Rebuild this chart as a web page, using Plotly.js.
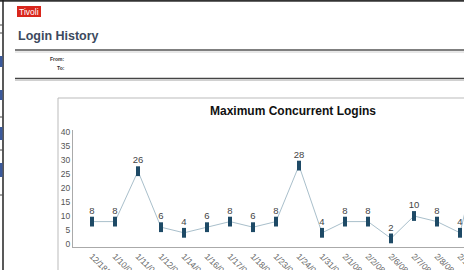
<!DOCTYPE html>
<html>
<head>
<meta charset="utf-8">
<script src="https://cdn.plot.ly/plotly-3.0.1.min.js"></script>
<style>
html,body{margin:0;padding:0;background:#fff;}
#chart{width:464px;height:270px;}
</style>
</head>
<body>
<div id="chart"></div>
<script>
// ---- data ----
var dates = ['12/18/07','1/10/08','1/11/08','1/12/08','1/14/08','1/16/08','1/17/08','1/18/08','1/23/08','1/24/08','1/31/08','2/1/08','2/2/08','2/6/08','2/7/08','2/8/08','2/11/08','2/12/08'];
var logins = [8,8,26,6,4,6,8,6,8,28,4,8,8,2,10,8,4,38];
var yTicks = [0,5,10,15,20,25,30,35,40];
var chartTitle = 'Maximum Concurrent Logins';
var pageTitle = 'Login History';

// ---- pixel helpers for page decorations (paper = whole 464x270 area) ----
var W = 464, H = 270;
var L = 73, R = 464, T = 130, B = 247;
function px(x){ return x / W; }
function py(y){ return 1 - y / H; }
function hline(x0, x1, y, color, w){
  return {type:'line', xref:'paper', yref:'paper', x0:px(x0), x1:px(x1), y0:py(y), y1:py(y), line:{color:color, width:w}};
}
function vline(x, y0, y1, color, w){
  return {type:'line', xref:'paper', yref:'paper', x0:px(x), x1:px(x), y0:py(y0), y1:py(y1), line:{color:color, width:w}};
}
function rect(x0, y0, x1, y1, fill){
  return {type:'rect', xref:'paper', yref:'paper', x0:px(x0), x1:px(x1), y0:py(y1), y1:py(y0), fillcolor:fill, line:{width:0}, layer:'above'};
}

var shapes = [
  hline(0, 464, 0.8, '#333', 2),
  vline(3, 0, 270, '#222', 1.5),
  rect(0, 56, 2.5, 67, '#3b5a9c'),
  rect(0, 90, 2.5, 100, '#3b5a9c'),
  rect(0, 127, 2.5, 140, '#3b5a9c'),
  rect(0, 163, 2.5, 177, '#3b5a9c'),
  hline(0, 2.5, 25, '#444', 1),
  hline(0, 2.5, 33, '#444', 1),
  hline(0, 2.5, 117, '#444', 1),
  hline(0, 2.5, 150, '#444', 1),
  hline(0, 2.5, 195, '#444', 1),
  rect(17, 6, 41, 17, '#d9261c'),
  hline(15, 464, 50, '#555', 1.5),
  hline(15, 464, 52, '#d0d0d0', 1),
  hline(15, 464, 78.5, '#444', 1.5),
  hline(15, 464, 80.5, '#d0d0d0', 1),
  hline(58, 464, 98, '#bbbbbb', 1),
  vline(58, 98, 270, '#bbbbbb', 1)
];

var annotations = [
  {xref:'paper', yref:'paper', x:px(29), y:py(11.5), text:'Tivoli', showarrow:false, xanchor:'center', yanchor:'middle',
   font:{family:'Arial, Liberation Sans, sans-serif', size:8.5, color:'#ffffff'}},
  {xref:'paper', yref:'paper', x:px(16), y:py(36), text:'<b>' + pageTitle + '</b>', showarrow:false, xanchor:'left', yanchor:'middle',
   font:{family:'Arial, Liberation Sans, sans-serif', size:12.5, color:'#3c4a5e'}},
  {xref:'paper', yref:'paper', x:px(67), y:py(59), text:'<b>From:</b>', showarrow:false, xanchor:'right', yanchor:'middle',
   font:{family:'Arial, Liberation Sans, sans-serif', size:5, color:'#333'}},
  {xref:'paper', yref:'paper', x:px(67), y:py(68), text:'<b>To:</b>', showarrow:false, xanchor:'right', yanchor:'middle',
   font:{family:'Arial, Liberation Sans, sans-serif', size:5, color:'#333'}}
];

var trace = {
  type:'scatter',
  mode:'lines+markers+text',
  x: dates,
  y: logins,
  text: logins.map(String),
  textposition:'top center',
  textfont:{family:'Arial, Liberation Sans, sans-serif', size:9.5, color:'#444'},
  line:{color:'#a9bfcb', width:1},
  marker:{symbol:'line-ns', size:7, line:{color:'#1e4a66', width:4}},
  hoverinfo:'skip'
};

var layout = {
  width:W, height:H,
  margin:{l:0, r:0, t:0, b:0, pad:0},
  paper_bgcolor:'#ffffff', plot_bgcolor:'#ffffff',
  showlegend:false,
  title:{text:chartTitle, xref:'container', yref:'container', x:293/W, y:1-111/H, xanchor:'center', yanchor:'middle',
         font:{family:'Arial, Liberation Sans, sans-serif', size:12, color:'#111', weight:'bold'}},
  xaxis:{type:'category', domain:[L/W, R/W], range:[(L-92)/23, (R-92)/23], tickangle:45, showgrid:false, zeroline:false,
         showline:true, linecolor:'#aaaaaa', linewidth:1, ticks:'',
         tickfont:{family:'Arial, Liberation Sans, sans-serif', size:8.5, color:'#666'}},
  yaxis:{domain:[1-B/H, 1-T/H], range:[-(B-244)/2.8, 40 + (244-40*2.8-T)/2.8], tickvals:yTicks, showgrid:false, zeroline:false,
         showline:true, linecolor:'#aaaaaa', linewidth:1, ticks:'',
         tickfont:{family:'Arial, Liberation Sans, sans-serif', size:8.5, color:'#555'}},
  shapes:shapes,
  annotations:annotations
};

Plotly.newPlot('chart', [trace], layout, {staticPlot:true, displayModeBar:false});
</script>
</body>
</html>
